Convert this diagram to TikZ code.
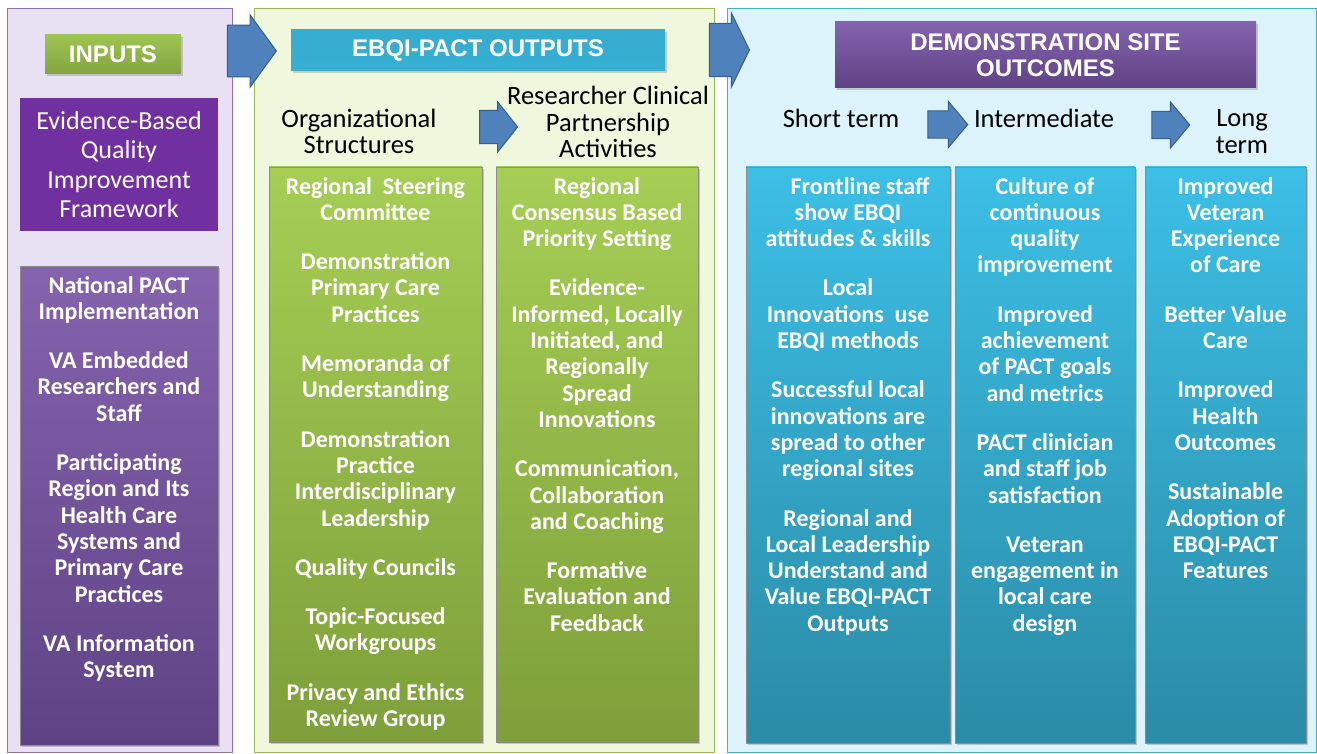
\documentclass[tikz,border=0pt]{standalone}
\usepackage{fontspec}
\setmainfont{Carlito}
\newfontfamily\titlefont{Liberation Sans}
\usetikzlibrary{shapes.arrows,shadows}

\definecolor{inbg}{HTML}{E8E0F3}
\definecolor{inedge}{HTML}{8E74B5}
\definecolor{outbg}{HTML}{EFF8DD}
\definecolor{outedge}{HTML}{9BBB59}
\definecolor{ocbg}{HTML}{DDF3FB}
\definecolor{ocedge}{HTML}{4BACC6}
\definecolor{arrowblue}{HTML}{4F81BD}
\definecolor{arrowedge}{HTML}{385D8A}
\definecolor{framework}{HTML}{7030A0}
\definecolor{purptop}{HTML}{8563AE}
\definecolor{purpbot}{HTML}{5F4285}
\definecolor{greentop}{HTML}{A6CE55}
\definecolor{greenbot}{HTML}{7E9F3A}
\definecolor{bluetop}{HTML}{3CBFE6}
\definecolor{bluebot}{HTML}{2A8BA6}

\begin{document}
\begin{tikzpicture}[x=1pt, y=-1pt,
    panel/.style={draw, line width=0.8pt, inner sep=0pt},
    titlebox/.style={text=white, inner sep=0pt, align=center,
      font=\titlefont\bfseries\fontsize{24}{26}\selectfont,
      drop shadow={shadow xshift=1.5pt, shadow yshift=-2pt, opacity=0.35}},
    colbox/.style={inner sep=0pt, draw=black!45, line width=0.4pt,
      drop shadow={shadow xshift=1.5pt, shadow yshift=-2pt, opacity=0.4}},
    greenbox/.style={colbox, top color=greentop, bottom color=greenbot},
    bluebox/.style={colbox, top color=bluetop, bottom color=bluebot},
    coltext/.style={text=white, inner sep=0pt, anchor=north, align=center,
      font=\bfseries\fontsize{24}{26.3}\selectfont},
    heading/.style={inner sep=0pt, align=center,
      font=\fontsize{26.5}{26.5}\selectfont},
    fatarrow/.style={single arrow, draw=arrowedge, fill=arrowblue,
      line width=1pt, inner xsep=0pt, text height=0pt, text depth=0pt,
      single arrow head indent=0pt}]
  \useasboundingbox (0,0) rectangle (1317,754);
  \fill[white] (0,0) rectangle (1317,754);

  % three panels
  \node[panel, draw=inedge, fill=inbg, minimum width=225pt, minimum height=744pt] (inpanel) at (119.5,380) {};
  \node[panel, draw=outedge, fill=outbg, minimum width=460pt, minimum height=744pt] (outpanel) at (484,380) {};
  \node[panel, draw=ocedge, fill=ocbg, minimum width=589pt, minimum height=744pt] (ocpanel) at (1021.5,380) {};

  % big arrows between panels
  \node[fatarrow, minimum height=49pt, minimum width=72pt, inner ysep=17.5pt,
    single arrow tip angle=108] (arrin) at (242.5,51) {};
  \node[fatarrow, minimum height=40pt, minimum width=74pt, inner ysep=17.5pt,
    single arrow tip angle=128] (arrout) at (723,50) {};

  % titles
  \node[titlebox, top color=greentop!95!black, bottom color=greenbot!95!white,
    minimum width=136pt, minimum height=39pt] (intitle) at (113,54.5) {INPUTS};
  \node[titlebox, top color=bluetop!90!black, bottom color=bluetop!70!bluebot,
    minimum width=374pt, minimum height=41pt] (outtitle) at (478,50.5) {EBQI-PACT OUTPUTS};
  \node[titlebox, top color=purptop, bottom color=purpbot,
    minimum width=421pt, minimum height=66pt] (octitle) at (1045.5,55) {DEMONSTRATION SITE\\OUTCOMES};

  % inputs column
  \node[fill=framework, inner sep=0pt, minimum width=198pt, minimum height=133pt,
    text=white, align=center, font=\fontsize{26}{29.5}\selectfont] (ebqi) at (119,164.5)
    {Evidence-Based\\Quality\\Improvement\\Framework};
  \node[colbox, top color=purptop, bottom color=purpbot,
    minimum width=198pt, minimum height=479pt] (inlist) at (119,505.5) {};
  \node[coltext] (inlisttext) at (119,276) {National PACT\\Implementation\\[23pt]
    VA Embedded\\Researchers and\\Staff\\[23pt]
    Participating\\Region and Its\\Health Care\\Systems and\\Primary Care\\Practices\\[23pt]
    VA Information\\System};

  % outputs columns
  \node[heading] (orghead) at (359,131.5) {Organizational\\Structures};
  \node[heading] (rcphead) at (608,122) {Researcher Clinical\\Partnership\\Activities};
  \node[fatarrow, minimum height=38pt, minimum width=50pt, inner ysep=13.5pt,
    single arrow tip angle=103] (arrorg) at (492,127) {};

  \node[greenbox, minimum width=213pt, minimum height=575pt] (orgcol) at (375.5,454.5) {};
  \node[coltext] (orgtext) at (375.5,177) {Regional~~Steering\\Committee\\[23pt]
    Demonstration\\Primary Care\\Practices\\[23pt]
    Memoranda of\\Understanding\\[23pt]
    Demonstration\\Practice\\Interdisciplinary\\Leadership\\[23pt]
    Quality Councils\\[23pt]
    Topic-Focused\\Workgroups\\[23pt]
    Privacy and Ethics\\Review Group};

  \node[greenbox, minimum width=202pt, minimum height=575pt] (rcpcol) at (597,454.5) {};
  \node[coltext] (rcptext) at (597,177) {Regional\\Consensus Based\\Priority Setting\\[23pt]
    Evidence-\\Informed, Locally\\Initiated, and\\Regionally\\Spread\\Innovations\\[23pt]
    Communication,\\Collaboration\\and Coaching\\[23pt]
    Formative\\Evaluation and\\Feedback};

  % outcomes columns
  \node[heading] (shorthead) at (841,118) {Short term};
  \node[heading] (midhead) at (1044,118) {Intermediate};
  \node[heading] (longhead) at (1242,131.5) {Long\\term};
  \node[fatarrow, minimum height=40pt, minimum width=46pt, inner ysep=10pt,
    single arrow tip angle=100] (arrshort) at (942,124.5) {};
  \node[fatarrow, minimum height=38pt, minimum width=46pt, inner ysep=10pt,
    single arrow tip angle=100] (arrmid) at (1165,125) {};

  \node[bluebox, minimum width=204pt, minimum height=576pt] (shortcol) at (848,455) {};
  \node[coltext] (shorttext) at (848,177) {\hspace*{24pt}Frontline staff\\show EBQI\\attitudes \& skills\\[23pt]
    Local\\Innovations~~use\\EBQI methods\\[23pt]
    Successful local\\innovations are\\spread to other\\regional sites\\[23pt]
    Regional and\\Local Leadership\\Understand and\\Value EBQI-PACT\\Outputs};

  \node[bluebox, minimum width=180pt, minimum height=576pt] (midcol) at (1045,455) {};
  \node[coltext] (midtext) at (1045,177) {Culture of\\continuous\\quality\\improvement\\[23pt]
    Improved\\achievement\\of PACT goals\\and metrics\\[23pt]
    PACT clinician\\and staff job\\satisfaction\\[23pt]
    Veteran\\engagement in\\local care\\design};

  \node[bluebox, minimum width=161pt, minimum height=576pt] (longcol) at (1225.5,455) {};
  \node[coltext] (longtext) at (1225.5,177) {Improved\\Veteran\\Experience\\of Care\\[23pt]
    Better Value\\Care\\[23pt]
    Improved\\Health\\Outcomes\\[23pt]
    Sustainable\\Adoption of\\EBQI-PACT\\Features};
\end{tikzpicture}
\end{document}
